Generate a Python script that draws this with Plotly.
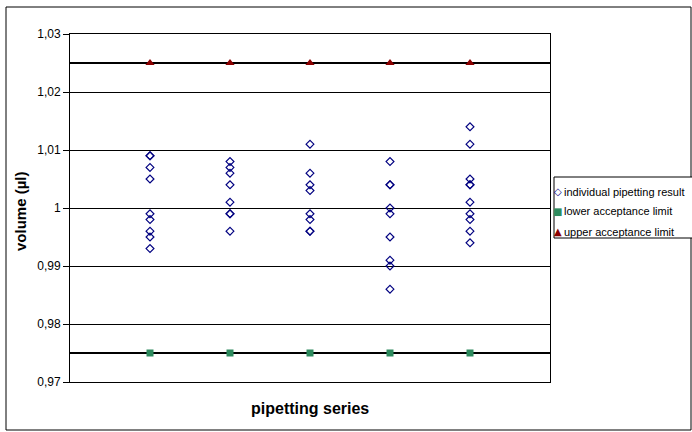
import plotly.graph_objects as go

# ---- data ----
series_ids = [1, 2, 3, 4, 5]
results_1 = [1.009, 1.009, 1.007, 1.005, 0.999, 0.998, 0.996, 0.995, 0.993]
results_2 = [1.008, 1.007, 1.006, 1.004, 1.001, 0.999, 0.999, 0.996]
results_3 = [1.011, 1.006, 1.004, 1.003, 0.999, 0.998, 0.996, 0.996]
results_4 = [1.008, 1.004, 1.004, 1.000, 0.999, 0.995, 0.991, 0.990, 0.986]
results_5 = [1.014, 1.011, 1.005, 1.004, 1.004, 1.001, 0.999, 0.998, 0.996, 0.994]
lower_limit = 0.975
upper_limit = 1.025
y_tickvals = [0.97, 0.98, 0.99, 1.00, 1.01, 1.02, 1.03]
y_ticktext = ["0,97", "0,98", "0,99", "1", "1,01", "1,02", "1,03"]
legend_labels = ["individual pipetting result", "lower acceptance limit", "upper acceptance limit"]
legend_symbols = ["◇", "■", "▲"]

all_results = [results_1, results_2, results_3, results_4, results_5]
xs, ys = [], []
for sid, vals in zip(series_ids, all_results):
    xs += [sid] * len(vals)
    ys += vals

FONT = "Liberation Sans, Arial, sans-serif"
NAVY = "#000080"
GREEN = "#2E8B5E"
DARKRED = "#8B0000"

fig = go.Figure()
fig.add_trace(go.Scatter(
    x=xs, y=ys, mode="markers", name=legend_labels[0], showlegend=False,
    marker=dict(symbol="diamond-open", size=6, color=NAVY, line=dict(width=1.2, color=NAVY)),
))
fig.add_trace(go.Scatter(
    x=series_ids, y=[lower_limit] * len(series_ids), mode="markers", name=legend_labels[1],
    showlegend=False, marker=dict(symbol="square", size=7, color=GREEN),
))
fig.add_trace(go.Scatter(
    x=series_ids, y=[upper_limit] * len(series_ids), mode="markers", name=legend_labels[2],
    showlegend=False, marker=dict(symbol="triangle-up", size=8, color=DARKRED),
))

for lim in (lower_limit, upper_limit):
    fig.add_shape(type="line", xref="paper", yref="y", x0=0, x1=1, y0=lim, y1=lim,
                  line=dict(color="black", width=2), layer="below")

# pixel -> paper helpers (plot area: x 70..550, y 34..382)
W0, H0 = 480.0, 348.0
def px(x):
    return (x - 70) / W0
def py(y):
    return (382 - y) / H0

# outer chart frame
fig.add_shape(type="rect", xref="paper", yref="paper",
              x0=px(6), x1=px(691), y0=py(430), y1=py(7),
              line=dict(color="black", width=1), fillcolor="rgba(0,0,0,0)")

# legend box (drawn manually, as in the original it runs off the right edge)
fig.add_shape(type="rect", xref="paper", yref="paper",
              x0=px(554), x1=px(700), y0=py(238), y1=py(177),
              line=dict(color="black", width=1), fillcolor="white")
sym_colors = [NAVY, GREEN, DARKRED]
sym_sizes = [10, 10, 10]
row_y = [191.5, 211.5, 231.5]
for lab, sym, col, ss, ry in zip(legend_labels, legend_symbols, sym_colors, sym_sizes, row_y):
    fig.add_annotation(text=sym, xref="paper", yref="paper", x=px(557.5), y=py(ry),
                       xanchor="center", yanchor="middle", showarrow=False,
                       font=dict(family="DejaVu Sans", size=ss, color=col))
    fig.add_annotation(text=lab, xref="paper", yref="paper", x=px(562), y=py(ry),
                       xanchor="left", yanchor="middle", showarrow=False,
                       font=dict(family=FONT, size=11, color="black"))

fig.add_annotation(text="<b>pipetting series</b>", xref="paper", yref="paper",
                   x=0.5, y=py(408), xanchor="center", yanchor="middle", showarrow=False,
                   font=dict(family=FONT, size=16, color="black"))
fig.add_annotation(text="<b>volume (µl)</b>", xref="paper", yref="paper",
                   x=px(20), y=py(212), xanchor="center", yanchor="middle",
                   textangle=-90, showarrow=False,
                   font=dict(family=FONT, size=15, color="black"))

fig.update_layout(
    width=692, height=432,
    margin=dict(l=70, r=142, t=34, b=50, autoexpand=False),
    paper_bgcolor="white", plot_bgcolor="white",
    font=dict(family=FONT, size=11, color="black"),
    showlegend=False,
    xaxis=dict(range=[0, 6], showticklabels=False, ticks="", showgrid=False,
               zeroline=False, showline=True, linecolor="black", linewidth=1, mirror=True),
    yaxis=dict(range=[0.97, 1.03], tickvals=y_tickvals, ticktext=y_ticktext,
               ticks="outside", ticklen=6, tickcolor="black",
               showgrid=True, gridcolor="black", gridwidth=1,
               zeroline=False, showline=True, linecolor="black", linewidth=1, mirror=True,
               tickfont=dict(family=FONT, size=12, color="black")),
)

fig.write_html("out.html", config={"displayModeBar": False},
               post_script="document.body.style.margin='0';document.body.style.overflow='hidden';")
